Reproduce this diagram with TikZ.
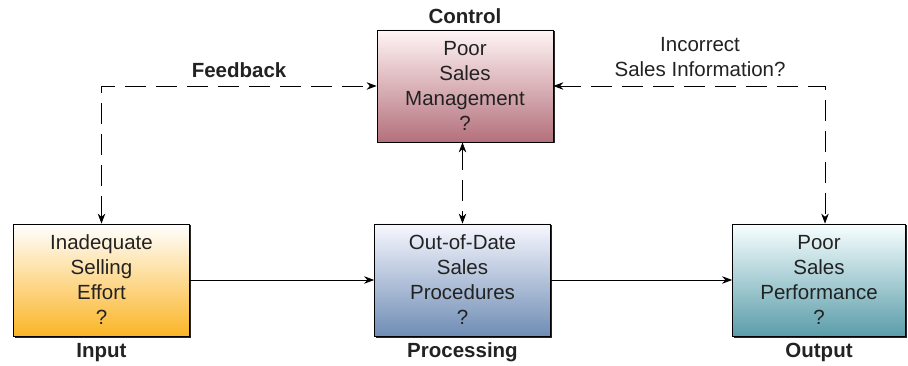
\documentclass[tikz,border=0pt]{standalone}
\usepackage{fontspec}
\setmainfont{Liberation Sans}
\usetikzlibrary{positioning,arrows.meta,shadows}

\definecolor{ctrlbot}{RGB}{180,112,124}
\definecolor{inpbot}{RGB}{251,181,38}
\definecolor{procbot}{RGB}{111,141,181}
\definecolor{outbot}{RGB}{91,157,170}
\definecolor{txt}{RGB}{34,34,34}

\begin{document}
\begin{tikzpicture}[
  x=1pt, y=1pt,
  box/.style={draw, line width=0.8pt, minimum width=176pt, minimum height=112pt,
              align=center, inner sep=0pt, text=txt,
              font=\fontsize{20.5}{25}\selectfont,
              drop shadow={shadow xshift=1.5pt, shadow yshift=-1.5pt,
                           opacity=1, fill=black!85}},
  tag/.style={font=\fontsize{20.5}{25}\selectfont\bfseries, text=txt},
  note/.style={font=\fontsize{20.5}{25}\selectfont, text=txt, align=center},
  arr/.style={-{Stealth[length=10pt, width=7.5pt]}, line width=0.8pt},
  dash2/.style={{Stealth[length=10pt, width=7.5pt]}-{Stealth[length=10pt, width=7.5pt]},
                line width=0.8pt, dash pattern=on 21pt off 10pt}
]
  \useasboundingbox (0,0) rectangle (908,-366);

  \node[box, top color=red!4, bottom color=ctrlbot] (ctrl) at (465,-86)
    {Poor\\ Sales\\ Management\\ ?};
  \node[box, top color=white, bottom color=inpbot] (inp) at (101.5,-280)
    {Inadequate\\ Selling\\ Effort\\ ?};
  \node[box, top color=blue!3, bottom color=procbot] (proc) at (462.5,-280)
    {Out-of-Date\\ Sales\\ Procedures\\ ?};
  \node[box, minimum width=173pt, top color=cyan!3, bottom color=outbot] (outp) at (819,-280)
    {Poor\\ Sales\\ Performance\\ ?};

  \node[tag, above=2pt of ctrl] (ctrltag) {Control};
  \node[tag, below=3pt of inp] (inptag) {Input};
  \node[tag, below=3pt of proc] (proctag) {Processing};
  \node[tag, below=3pt of outp] (outptag) {Output};

  \draw[arr] (inp) -- (proc);
  \draw[arr] (proc) -- (outp);

  \draw[dash2] (inp.north) |- node[tag, pos=0.75, above=5pt] {Feedback} (ctrl.west);
  \draw[dash2] (ctrl.east) -| node[note, pos=0.27, above=6pt] {Incorrect\\ Sales Information?}
    ([xshift=6pt]outp.north);
  \draw[dash2] (ctrl.south -| proc.north) -- (proc.north);
\end{tikzpicture}
\end{document}
